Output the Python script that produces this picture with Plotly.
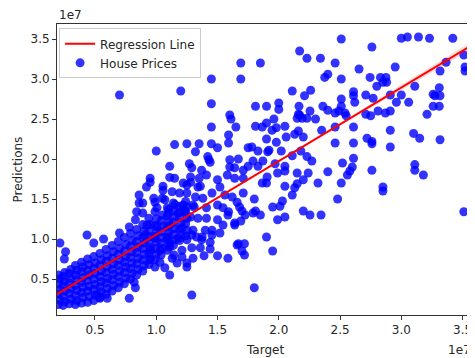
import plotly.graph_objects as go

# All values in units of 1e7 (as shown by the axis offset text)

# sparse points, upper-left part of the cloud
ul_target = [0.70, 1.20, 1.45, 1.45, 1.45, 1.60, 1.61, 1.65, 1.59, 1.59, 1.69, 1.69, 1.00, 1.15, 1.25,
             1.35, 1.32, 1.45, 1.50, 1.11, 1.27, 1.29, 1.37, 1.43, 0.95, 1.15, 1.35, 1.60, 1.67, 1.60,
             1.42, 1.44, 1.64, 1.71, 1.11, 0.95, 1.22, 1.28, 1.34, 1.41, 1.50, 1.58, 1.64, 1.71, 1.52,
             1.28, 0.92, 1.055, 1.25, 1.36]
ul_pred = [2.80, 2.85, 3.00, 2.69, 2.40, 2.55, 2.50, 2.40, 2.30, 2.20, 3.20, 3.00, 2.10, 2.18, 2.19,
           2.19, 2.09, 2.19, 2.14, 1.91, 1.94, 1.89, 1.86, 1.99, 1.76, 1.76, 1.76, 1.99, 2.00, 1.90,
           2.03, 1.96, 1.89, 1.86, 1.77, 1.71, 1.70, 1.71, 1.65, 1.80, 1.74, 1.80, 1.76, 1.76, 1.65,
           1.775, 1.65, 1.66, 1.675, 1.66]

# sparse points, upper-middle part
um_target = [1.85, 2.17, 2.23, 2.34, 2.46, 2.375, 2.40, 2.11, 2.21, 2.26, 1.81, 1.90, 2.00, 2.00, 2.165,
             2.255, 2.36, 2.16, 2.19, 2.30, 2.40, 2.46, 2.51, 2.49, 2.54, 2.55, 1.81, 1.90, 1.96, 1.98,
             2.05, 1.945, 1.90, 1.98, 2.06, 2.13, 2.16, 2.20, 2.35, 1.75, 1.83, 1.92, 2.02, 2.11, 2.18,
             2.23, 1.79, 1.87, 1.75, 1.83, 1.97, 2.05, 2.27, 1.865, 2.15, 2.17, 2.23, 1.78, 1.91, 2.05,
             2.15]
um_pred = [3.20, 3.35, 3.26, 3.26, 3.20, 3.02, 3.06, 2.85, 2.79, 2.86, 2.66, 2.66, 2.70, 2.62, 2.66,
           2.60, 2.66, 2.56, 2.51, 2.50, 2.61, 2.575, 2.66, 2.60, 2.575, 2.54, 2.41, 2.45, 2.50, 2.39,
           2.41, 2.36, 2.25, 2.21, 2.275, 2.31, 2.35, 2.275, 2.36, 2.14, 2.10, 2.11, 2.10, 2.04, 2.10,
           2.03, 1.975, 1.975, 1.91, 1.91, 1.94, 1.91, 1.975, 2.40, 2.51, 2.55, 2.51, 2.15, 2.09, 1.85,
           1.825]

# sparse points, right part
ur_target = [2.51, 3.00, 3.05, 3.14, 3.23, 3.42, 2.76, 2.655, 2.95, 3.365, 3.51, 3.52, 3.52, 3.57, 3.316,
             2.51, 2.745, 2.83, 2.875, 2.80, 2.85, 2.88, 3.11, 3.31, 3.26, 3.275, 3.316, 2.61, 2.61, 2.62,
             2.51, 2.71, 2.77, 2.91, 3.00, 3.06, 2.96, 2.71, 2.75, 2.81, 2.87, 2.91, 3.21, 3.26, 3.31,
             2.46, 2.61, 2.46, 2.61, 2.72, 2.76, 2.76, 2.91, 2.91, 3.10, 3.15, 3.316, 2.61, 2.52, 2.60,
             3.11, 2.76, 2.40, 2.56, 2.58, 3.11, 3.18, 2.51, 2.85, 2.85, 2.48, 3.51]
ur_pred = [3.50, 3.51, 3.525, 3.525, 3.51, 3.51, 3.40, 3.125, 3.15, 3.21, 3.30, 3.15, 3.10, 3.125, 3.10,
           3.00, 3.02, 3.02, 3.02, 2.91, 2.96, 2.96, 2.91, 2.89, 2.81, 2.79, 2.79, 2.84, 2.79, 2.71,
           2.75, 2.80, 2.76, 2.80, 2.80, 2.71, 2.71, 2.56, 2.54, 2.60, 2.575, 2.60, 2.56, 2.66, 2.66,
           2.40, 2.40, 2.20, 2.20, 2.26, 2.22, 2.19, 2.36, 2.15, 2.32, 2.26, 2.24, 2.01, 1.95, 1.90,
           1.93, 1.86, 1.84, 1.80, 1.85, 1.86, 1.80, 1.70, 1.65, 1.60, 1.50, 1.34]

# sparse points below the line, middle part
lm_target = [2.05, 2.15, 2.20, 2.32, 2.11, 2.03, 1.95, 1.99, 2.05, 2.20, 2.255, 2.345, 1.81, 1.85, 1.70,
             1.69, 1.90, 1.95, 1.67, 1.72, 1.70, 1.72, 1.80, 1.29, 1.585, 1.50, 1.39, 1.44, 1.52, 1.44,
             1.36, 1.375, 1.455, 1.50, 1.585, 1.64, 1.79, 1.80, 2.01, 2.13, 2.24, 1.99, 1.90, 1.865, 1.905]
lm_pred = [1.66, 1.69, 1.74, 1.70, 1.55, 1.475, 1.40, 1.24, 1.275, 1.35, 1.30, 1.30, 1.35, 1.30, 1.35,
           1.225, 1.025, 0.85, 0.94, 0.94, 0.85, 0.80, 0.39, 0.30, 0.76, 0.79, 0.79, 0.875, 1.075, 0.96,
           0.89, 1.025, 1.11, 1.24, 1.30, 1.20, 1.325, 1.50, 1.41, 1.64, 1.825, 1.825, 1.70, 1.70, 1.775]

# points around the centre of the cloud
ce_target = [1.13, 1.19, 1.25, 1.32, 1.38, 1.455, 1.56, 1.62, 1.66, 1.71, 0.89, 0.99, 1.07, 1.14, 1.22,
             1.30, 1.41, 1.50, 1.545, 1.59, 1.68, 1.725, 0.89, 0.99, 1.10, 1.18, 1.28, 1.34, 1.41, 1.64,
             1.545, 0.925, 1.006, 1.11, 1.21, 1.30, 1.40, 1.455, 0.91, 0.99, 1.09, 1.18, 1.25, 1.33, 1.37,
             0.95, 1.03, 1.11, 1.21, 1.29, 1.66, 0.95, 1.03, 1.13, 1.21, 1.30, 0.99, 1.07, 1.17, 1.25,
             0.86, 0.86, 0.98, 0.84, 1.006, 1.09, 1.235, 1.31, 0.83, 0.78, 0.70, 0.435, 0.49, 0.57, 0.214,
             0.26, 0.25, 1.11, 1.145, 1.29, 1.11, 1.25, 0.82, 0.83, 0.78, 0.54, 0.60, 0.52, 1.05, 1.055]
ce_pred = [1.59, 1.575, 1.575, 1.525, 1.51, 1.575, 1.55, 1.525, 1.46, 1.575, 1.45, 1.46, 1.49, 1.45, 1.425,
           1.425, 1.39, 1.425, 1.39, 1.34, 1.40, 1.30, 1.325, 1.34, 1.325, 1.325, 1.275, 1.26, 1.26, 1.175,
           1.175, 1.175, 1.15, 1.175, 1.14, 1.11, 1.11, 1.05, 1.05, 1.01, 1.025, 1.01, 0.99, 1.025, 0.99,
           0.86, 0.86, 0.90, 0.86, 0.89, 0.925, 0.74, 0.71, 0.76, 0.775, 0.76, 0.65, 0.64, 0.70, 0.65,
           1.55, 1.45, 1.51, 1.34, 1.39, 1.39, 1.36, 1.40, 1.24, 1.15, 1.075, 1.05, 0.95, 1.00, 0.95,
           0.84, 0.75, 0.96, 0.80, 1.05, 0.55, 0.70, 0.46, 0.39, 0.26, 0.26, 0.26, 0.30, 1.51, 1.61]

# dense band along the line: target value of each column and the predictions in it
core_target = [0.20, 0.24, 0.29, 0.34, 0.39, 0.44, 0.49, 0.54, 0.59, 0.64, 0.69,
               0.74, 0.79, 0.84, 0.89, 0.94, 0.99, 1.04, 1.09, 1.14, 1.19, 1.24]
core_pred = [
    [0.18, 0.24, 0.31, 0.37, 0.44, 0.50, 0.55],
    [0.17, 0.22, 0.28, 0.35, 0.41, 0.47, 0.53, 0.58],
    [0.19, 0.25, 0.32, 0.38, 0.45, 0.51, 0.57, 0.62],
    [0.18, 0.23, 0.29, 0.36, 0.42, 0.49, 0.55, 0.61, 0.67],
    [0.20, 0.27, 0.33, 0.40, 0.46, 0.52, 0.59, 0.65, 0.71],
    [0.21, 0.28, 0.35, 0.41, 0.48, 0.55, 0.61, 0.68, 0.75],
    [0.23, 0.30, 0.37, 0.43, 0.50, 0.57, 0.63, 0.70, 0.78],
    [0.27, 0.34, 0.40, 0.47, 0.53, 0.60, 0.67, 0.74, 0.82],
    [0.31, 0.38, 0.45, 0.51, 0.58, 0.65, 0.72, 0.79, 0.87],
    [0.35, 0.42, 0.49, 0.56, 0.62, 0.69, 0.76, 0.84, 0.92],
    [0.39, 0.46, 0.53, 0.60, 0.67, 0.74, 0.81, 0.88, 0.97],
    [0.44, 0.51, 0.58, 0.65, 0.71, 0.78, 0.85, 0.93, 1.02],
    [0.50, 0.57, 0.63, 0.70, 0.77, 0.84, 0.91, 0.98, 1.07],
    [0.55, 0.62, 0.69, 0.76, 0.83, 0.90, 0.97, 1.04, 1.12],
    [0.60, 0.67, 0.74, 0.81, 0.88, 0.95, 1.02, 1.10, 1.18],
    [0.68, 0.75, 0.82, 0.89, 0.96, 1.03, 1.10, 1.18, 1.26],
    [0.74, 0.81, 0.88, 0.96, 1.03, 1.10, 1.17, 1.25],
    [0.80, 0.88, 0.95, 1.02, 1.09, 1.16, 1.23, 1.30],
    [0.86, 0.93, 1.00, 1.08, 1.15, 1.22, 1.29, 1.37],
    [0.92, 0.99, 1.06, 1.13, 1.21, 1.28, 1.35, 1.43],
    [0.98, 1.05, 1.12, 1.20, 1.27, 1.34, 1.41],
    [1.04, 1.11, 1.19, 1.26, 1.33, 1.40, 1.47],
]

# regression line and its confidence band
reg_target = [0.19, 3.585]
reg_pred = [0.31, 3.43]
band_target = [0.19, 1.2, 2.4, 3.585]
band_low = [0.28, 1.228, 2.325, 3.38]
band_high = [0.34, 1.248, 2.357, 3.48]

x_ticks = [0.5, 1.0, 1.5, 2.0, 2.5, 3.0, 3.5]
y_ticks = [0.5, 1.0, 1.5, 2.0, 2.5, 3.0, 3.5]

# assemble the scatter series
xs, ys = [], []
for gx, gy in [(ul_target, ul_pred), (um_target, um_pred), (ur_target, ur_pred),
               (lm_target, lm_pred), (ce_target, ce_pred)]:
    xs += gx
    ys += gy
for cx, col in zip(core_target, core_pred):
    for i, v in enumerate(col):
        xs.append(cx + (0.012 if i % 2 else 0.0))
        ys.append(v)

FONT = "DejaVu Sans"
TXT = "#262626"

fig = go.Figure()
fig.add_trace(go.Scatter(
    x=xs, y=ys, mode="markers", name="House Prices",
    marker=dict(color="rgba(0,0,255,0.8)", size=9, line=dict(width=0)),
))
fig.add_trace(go.Scatter(
    x=band_target + band_target[::-1], y=band_high + band_low[::-1],
    fill="toself", fillcolor="rgba(255,0,0,0.15)", line=dict(width=0),
    mode="lines", showlegend=False, hoverinfo="skip",
))
fig.add_trace(go.Scatter(
    x=reg_target, y=reg_pred, mode="lines", name="Regression Line",
    line=dict(color="red", width=2),
))

axis_common = dict(
    showgrid=False, zeroline=False, showline=True, mirror=True, automargin=False,
    linecolor="#333333", linewidth=1, ticks="outside", ticklen=4,
    tickcolor="#333333", tickfont=dict(family=FONT, size=12, color=TXT),
)

# the page body has an 8px default margin, so the figure is sized to fit inside it
fig.update_layout(
    width=467, height=350,
    margin=dict(l=49, r=2, t=16, b=43),
    paper_bgcolor="white", plot_bgcolor="white",
    font=dict(family=FONT, size=12, color=TXT),
    xaxis=dict(range=[0.19, 3.585], tickvals=x_ticks, tickformat=".1f", **axis_common),
    yaxis=dict(range=[0.05, 3.6875], tickvals=y_ticks, tickformat=".1f", **axis_common),
    legend=dict(x=0.005, y=0.985, xanchor="left", yanchor="top",
                bgcolor="rgba(255,255,255,0.8)", bordercolor="#cccccc", borderwidth=1,
                font=dict(family=FONT, size=12, color=TXT), traceorder="reversed",
                itemwidth=30),
    showlegend=True,
    annotations=[
        dict(text="1e7", xref="paper", yref="paper", x=0, y=1, xanchor="left",
             yanchor="bottom", yshift=0, showarrow=False, font=dict(size=12, color=TXT)),
        dict(text="1e7", xref="paper", yref="paper", x=1, y=0, xanchor="right",
             yanchor="middle", yshift=-35, showarrow=False, font=dict(size=12, color=TXT)),
        dict(text="Target", xref="paper", yref="paper", x=0.5, y=0, xanchor="center",
             yanchor="middle", yshift=-35, showarrow=False, font=dict(size=12, color=TXT)),
        dict(text="Predictions", xref="paper", yref="paper", x=0, y=0.5, xanchor="center",
             yanchor="middle", xshift=-40, textangle=-90, showarrow=False,
             font=dict(size=12, color=TXT)),
    ],
)

fig.write_html("out.html")
